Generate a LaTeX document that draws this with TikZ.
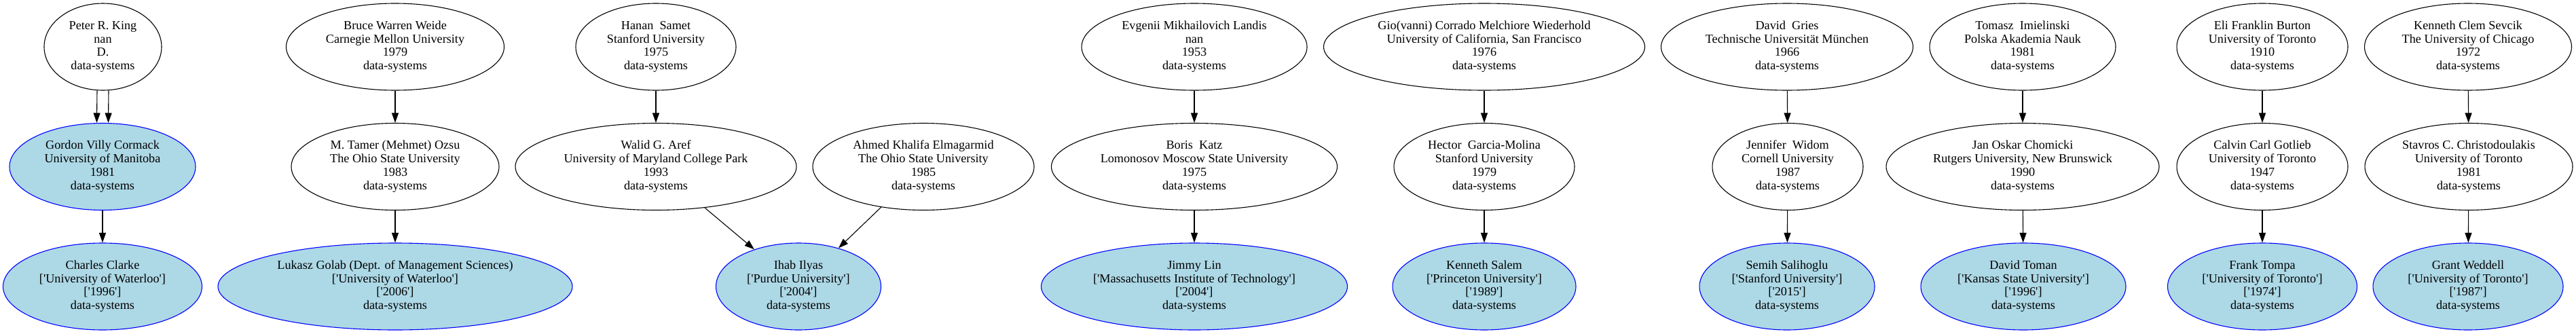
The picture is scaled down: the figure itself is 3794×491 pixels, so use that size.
\documentclass[tikz,border=0pt]{standalone}
\usepackage{fontspec}
\setmainfont{Liberation Serif}[Ligatures=TeXOff]
\usetikzlibrary{shapes.geometric,arrows.meta}
\definecolor{nodeblue}{RGB}{173,216,230}
\newcommand{\nlines}[4]{\makebox[0pt]{\begin{tabular}{@{}c@{}}#1\\\relax#2\\\relax#3\\\relax#4\end{tabular}}}
\begin{document}
\begin{tikzpicture}[x=1pt,y=-1pt,
  person/.style={ellipse, draw=black, line width=1.1pt, inner sep=0pt,
    minimum height=128pt, font=\fontsize{18.2}{19.8}\selectfont},
  alum/.style={person, draw=blue, fill=nodeblue},
  link/.style={line width=1.1pt, -{Triangle[length=14.5pt,width=10pt]}}]
\useasboundingbox (0,0) rectangle (3794,491);
\def\ra{69}\def\rb{245.5}\def\rc{422}
% column 1
\node[person, minimum width=173pt] (peter) at (151.5,\ra) {\nlines{Peter R. King}{nan}{D.}{data-systems}};
\node[alum, minimum width=274pt] (gordon) at (151,\rb) {\nlines{Gordon Villy Cormack}{University of Manitoba}{1981}{data-systems}};
\node[alum, minimum width=293pt] (clarke) at (151,\rc) {\nlines{Charles Clarke}{['University of Waterloo']}{['1996']}{data-systems}};
% column 2
\node[person, minimum width=321pt] (weide) at (582,\ra) {\nlines{Bruce Warren Weide}{Carnegie Mellon University}{1979}{data-systems}};
\node[person, minimum width=306pt] (ozsu) at (582,\rb) {\nlines{M. Tamer (Mehmet) Ozsu}{The Ohio State University}{1983}{data-systems}};
\node[alum, minimum width=522pt] (golab) at (582,\rc) {\nlines{Lukasz Golab (Dept. of Management Sciences)}{['University of Waterloo']}{['2006']}{data-systems}};
% column 3
\node[person, minimum width=236pt] (samet) at (966,\ra) {\nlines{Hanan\ \ Samet}{Stanford University}{1975}{data-systems}};
\node[person, minimum width=414pt] (aref) at (966,\rb) {\nlines{Walid G. Aref}{University of Maryland College Park}{1993}{data-systems}};
\node[person, minimum width=326pt] (elmagarmid) at (1360,\rb) {\nlines{Ahmed Khalifa Elmagarmid}{The Ohio State University}{1985}{data-systems}};
\node[alum, minimum width=243pt] (ilyas) at (1176,\rc) {\nlines{Ihab Ilyas}{['Purdue University']}{['2004']}{data-systems}};
% column 4
\node[person, minimum width=332pt] (landis) at (1759,\ra) {\nlines{Evgenii Mikhailovich Landis}{nan}{1953}{data-systems}};
\node[person, minimum width=421pt] (katz) at (1759,\rb) {\nlines{Boris\ \ Katz}{Lomonosov Moscow State University}{1975}{data-systems}};
\node[alum, minimum width=451pt] (lin) at (1759,\rc) {\nlines{Jimmy Lin}{['Massachusetts Institute of Technology']}{['2004']}{data-systems}};
% column 5
\node[person, minimum width=473pt] (wiederhold) at (2186,\ra) {\nlines{Gio(vanni) Corrado Melchiore Wiederhold}{University of California, San Francisco}{1976}{data-systems}};
\node[person, minimum width=266pt] (garcia) at (2186,\rb) {\nlines{Hector\ \ Garcia-Molina}{Stanford University}{1979}{data-systems}};
\node[alum, minimum width=270pt] (salem) at (2186,\rc) {\nlines{Kenneth Salem}{['Princeton University']}{['1989']}{data-systems}};
% column 6
\node[person, minimum width=371pt] (gries) at (2632,\ra) {\nlines{David\ \ Gries}{Technische Universität München}{1966}{data-systems}};
\node[person, minimum width=222pt] (widom) at (2633,\rb) {\nlines{Jennifer\ \ Widom}{Cornell University}{1987}{data-systems}};
\node[alum, minimum width=258pt] (salihoglu) at (2632,\rc) {\nlines{Semih Salihoglu}{['Stanford University']}{['2015']}{data-systems}};
% column 7
\node[person, minimum width=274pt] (imielinski) at (2979,\ra) {\nlines{Tomasz\ \ Imielinski}{Polska Akademia Nauk}{1981}{data-systems}};
\node[person, minimum width=402pt] (chomicki) at (2979,\rb) {\nlines{Jan Oskar Chomicki}{Rutgers University, New Brunswick}{1990}{data-systems}};
\node[alum, minimum width=302pt] (toman) at (2980,\rc) {\nlines{David Toman}{['Kansas State University']}{['1996']}{data-systems}};
% column 8
\node[person, minimum width=252pt] (burton) at (3332,\ra) {\nlines{Eli Franklin Burton}{University of Toronto}{1910}{data-systems}};
\node[person, minimum width=252pt] (gotlieb) at (3332,\rb) {\nlines{Calvin Carl Gotlieb}{University of Toronto}{1947}{data-systems}};
\node[alum, minimum width=279pt] (tompa) at (3332,\rc) {\nlines{Frank Tompa}{['University of Toronto']}{['1974']}{data-systems}};
% column 9
\node[person, minimum width=305pt] (sevcik) at (3635,\ra) {\nlines{Kenneth Clem Sevcik}{The University of Chicago}{1972}{data-systems}};
\node[person, minimum width=306pt] (christodoulakis) at (3636,\rb) {\nlines{Stavros C. Christodoulakis}{University of Toronto}{1981}{data-systems}};
\node[alum, minimum width=280pt] (weddell) at (3635,\rc) {\nlines{Grant Weddell}{['University of Toronto']}{['1987']}{data-systems}};
% edges
\draw[link] ([xshift=-8.5pt]peter.south) -- ([xshift=-8.5pt]gordon.north);
\draw[link] ([xshift=8.5pt]peter.south) -- ([xshift=8.5pt]gordon.north);
\draw[link] (gordon) -- (clarke);
\draw[link] (weide) -- (ozsu);
\draw[link] (ozsu) -- (golab);
\draw[link] (samet) -- (aref);
\draw[link] (aref) -- (ilyas);
\draw[link] (elmagarmid) -- (ilyas);
\draw[link] (landis) -- (katz);
\draw[link] (katz) -- (lin);
\draw[link] (wiederhold) -- (garcia);
\draw[link] (garcia) -- (salem);
\draw[link] (gries) -- (widom);
\draw[link] (widom) -- (salihoglu);
\draw[link] (imielinski) -- (chomicki);
\draw[link] (chomicki) -- (toman);
\draw[link] (burton) -- (gotlieb);
\draw[link] (gotlieb) -- (tompa);
\draw[link] (sevcik) -- (christodoulakis);
\draw[link] (christodoulakis) -- (weddell);
\end{tikzpicture}
\end{document}
